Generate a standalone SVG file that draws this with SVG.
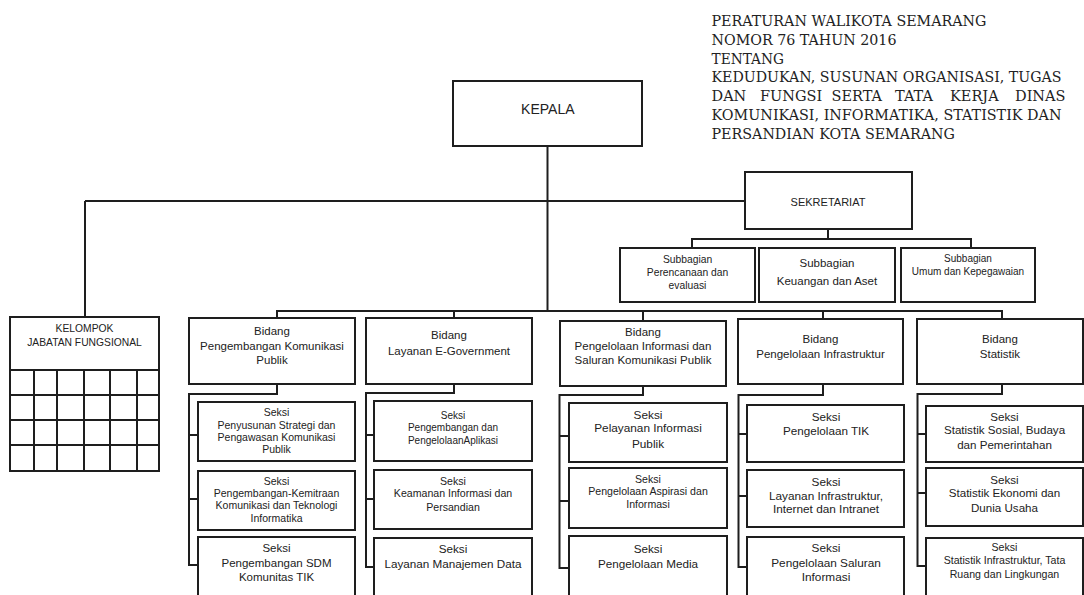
<svg xmlns="http://www.w3.org/2000/svg" width="1084" height="595" viewBox="0 0 1084 595">
<style>
  .box { fill: #fff; stroke: #1e1e1e; stroke-width: 2; }
  .ln { fill: none; stroke: #1e1e1e; stroke-width: 2; }
  .t { font-family: "Liberation Sans", Arial, sans-serif; fill: #222; text-anchor: middle; }
  .hd { font-family: "DejaVu Serif", "Liberation Serif", serif; font-size: 14.5px; fill: #222; }
</style>
<rect x="0" y="0" width="1084" height="595" fill="#fff"/>

<g id="header">
  <text class="hd" x="711.5" y="26" textLength="275" lengthAdjust="spacingAndGlyphs">PERATURAN WALIKOTA SEMARANG</text>
  <text class="hd" x="711.5" y="44.8" textLength="185" lengthAdjust="spacingAndGlyphs">NOMOR 76 TAHUN 2016</text>
  <text class="hd" x="711.5" y="63.6" textLength="72.5" lengthAdjust="spacingAndGlyphs">TENTANG</text>
  <text class="hd" x="711.5" y="82.4" textLength="350" lengthAdjust="spacingAndGlyphs">KEDUDUKAN, SUSUNAN ORGANISASI, TUGAS</text>
  <text class="hd" y="101.2"><tspan x="711.5">DAN</tspan> <tspan x="760">FUNGSI</tspan> <tspan x="831.5">SERTA</tspan> <tspan x="895">TATA</tspan> <tspan x="950">KERJA</tspan> <tspan x="1015">DINAS</tspan></text>
  <text class="hd" x="711.5" y="120" textLength="350" lengthAdjust="spacingAndGlyphs">KOMUNIKASI, INFORMATIKA, STATISTIK DAN</text>
  <text class="hd" x="711.5" y="138.8" textLength="243.5" lengthAdjust="spacingAndGlyphs">PERSANDIAN KOTA SEMARANG</text>
</g>

<g id="connectors">
  <path class="ln" d="M547.5,146.5 V311"/>
  <path class="ln" d="M85,201 H745"/>
  <path class="ln" d="M85,201 V317"/>
  <path class="ln" d="M828,229 V239"/>
  <path class="ln" d="M692,248 V239 H971 V248"/>
  <path class="ln" d="M277,318 V311 H1002 V319"/>
  <path class="ln" d="M454,311 V318"/>
  <path class="ln" d="M643,311 V321"/>
  <path class="ln" d="M823,311 V319"/>
  <path class="ln" d="M277,384 V394 H189 V565 H198 M189,435 H198 M189,499 H198"/>
  <path class="ln" d="M454,384 V393 H366 V567 H374 M366,435 H374 M366,499 H374"/>
  <path class="ln" d="M643,386 V395 H559.5 V568 H569 M559.5,436 H569 M559.5,501 H569"/>
  <path class="ln" d="M823,384 V395 H738.5 V567 H747 M738.5,434 H747 M738.5,496 H747"/>
  <path class="ln" d="M1002,384 V394 H917.5 V566 H926 M917.5,434 H926 M917.5,493 H926"/>
</g>

<g id="kepala">
  <rect class="box" x="453" y="81" width="189" height="65"/>
  <text class="t" x="547.8" y="114.3" font-size="14">KEPALA</text>
</g>

<g id="sekretariat">
  <rect class="box" x="745" y="172" width="167" height="57"/>
  <text class="t" x="828" y="205.7" font-size="11">SEKRETARIAT</text>
</g>

<g id="subbagian-perencanaan">
  <rect class="box" x="620" y="248" width="135" height="54"/>
  <text class="t" x="687.5" font-size="10.3"><tspan x="687.5" y="263">Subbagian</tspan><tspan x="687.5" y="276">Perencanaan dan</tspan><tspan x="687.5" y="289.3">evaluasi</tspan></text>
</g>

<g id="subbagian-keuangan">
  <rect class="box" x="759" y="248" width="136" height="54"/>
  <text class="t" x="827" font-size="11.5"><tspan x="827" y="266.7">Subbagian</tspan><tspan x="827" y="285">Keuangan dan Aset</tspan></text>
</g>

<g id="subbagian-umum">
  <rect class="box" x="901" y="248" width="134" height="54"/>
  <text class="t" x="968" font-size="10"><tspan x="968" y="261.7">Subbagian</tspan><tspan x="968" y="275">Umum dan Kepegawaian</tspan></text>
</g>

<g id="kelompok-jabatan-fungsional">
  <rect class="box" x="10" y="317" width="149" height="154"/>
  <path class="ln" d="M10,370 H159 M10,395 H159 M10,420 H159 M10,445 H159 M34,370 V471 M57,370 V471 M84,370 V471 M110,370 V471 M137,370 V471"/>
  <text class="t" x="84.5" font-size="10.3"><tspan x="84.5" y="332.3">KELOMPOK</tspan><tspan x="84.5" y="346">JABATAN FUNGSIONAL</tspan></text>
</g>

<g id="bidang-pengembangan-komunikasi-publik">
  <rect class="box" x="189" y="318" width="166" height="66"/>
  <text class="t" x="272" font-size="11.5"><tspan x="272" y="335">Bidang</tspan><tspan x="272" y="349.5">Pengembangan Komunikasi</tspan><tspan x="272" y="364">Publik</tspan></text>
</g>
<g id="seksi-penyusunan-strategi">
  <rect class="box" x="198" y="402" width="157" height="59"/>
  <text class="t" x="276.5" font-size="10.5"><tspan x="276.5" y="416">Seksi</tspan><tspan x="276.5" y="428.5">Penyusunan Strategi dan</tspan><tspan x="276.5" y="440.5">Pengawasan Komunikasi</tspan><tspan x="276.5" y="452.7">Publik</tspan></text>
</g>
<g id="seksi-pengembangan-kemitraan">
  <rect class="box" x="198" y="471" width="157" height="59"/>
  <text class="t" x="276.5" font-size="10.5"><tspan x="276.5" y="485">Seksi</tspan><tspan x="276.5" y="497">Pengembangan-Kemitraan</tspan><tspan x="276.5" y="509.3">Komunikasi dan Teknologi</tspan><tspan x="276.5" y="521.7">Informatika</tspan></text>
</g>
<g id="seksi-pengembangan-sdm">
  <rect class="box" x="198" y="537" width="157" height="70"/>
  <text class="t" x="276.5" font-size="11.5"><tspan x="276.5" y="552.3">Seksi</tspan><tspan x="276.5" y="566.7">Pengembangan SDM</tspan><tspan x="276.5" y="581">Komunitas TIK</tspan></text>
</g>

<g id="bidang-layanan-e-government">
  <rect class="box" x="366" y="318" width="166" height="66"/>
  <text class="t" x="449" font-size="11.5"><tspan x="449" y="339">Bidang</tspan><tspan x="449" y="355">Layanan E-Government</tspan></text>
</g>
<g id="seksi-pengembangan-aplikasi">
  <rect class="box" x="374" y="401" width="158" height="60"/>
  <text class="t" x="453" font-size="10"><tspan x="453" y="419">Seksi</tspan><tspan x="453" y="431">Pengembangan dan</tspan><tspan x="453" y="444.3">PengelolaanAplikasi</tspan></text>
</g>
<g id="seksi-keamanan-informasi">
  <rect class="box" x="374" y="470" width="158" height="59"/>
  <text class="t" x="453" font-size="10.6"><tspan x="453" y="485">Seksi</tspan><tspan x="453" y="497">Keamanan Informasi dan</tspan><tspan x="453" y="511">Persandian</tspan></text>
</g>
<g id="seksi-layanan-manajemen-data">
  <rect class="box" x="374" y="538" width="158" height="70"/>
  <text class="t" x="453" font-size="11.7"><tspan x="453" y="553.3">Seksi</tspan><tspan x="453" y="568.3">Layanan Manajemen Data</tspan></text>
</g>

<g id="bidang-pengelolaan-informasi">
  <rect class="box" x="560" y="321" width="166" height="65"/>
  <text class="t" x="643" font-size="11.5"><tspan x="643" y="336">Bidang</tspan><tspan x="643" y="350">Pengelolaan Informasi dan</tspan><tspan x="643" y="364.3">Saluran Komunikasi Publik</tspan></text>
</g>
<g id="seksi-pelayanan-informasi">
  <rect class="box" x="569" y="403" width="158" height="59"/>
  <text class="t" x="648" font-size="11.8"><tspan x="648" y="419">Seksi</tspan><tspan x="648" y="432.3">Pelayanan Informasi</tspan><tspan x="648" y="447.7">Publik</tspan></text>
</g>
<g id="seksi-pengelolaan-aspirasi">
  <rect class="box" x="569" y="468" width="158" height="60"/>
  <text class="t" x="648" font-size="10.6"><tspan x="648" y="482.7">Seksi</tspan><tspan x="648" y="495">Pengelolaan Aspirasi dan</tspan><tspan x="648" y="508.3">Informasi</tspan></text>
</g>
<g id="seksi-pengelolaan-media">
  <rect class="box" x="569" y="536" width="158" height="70"/>
  <text class="t" x="648" font-size="11.7"><tspan x="648" y="552.7">Seksi</tspan><tspan x="648" y="567.7">Pengelolaan Media</tspan></text>
</g>

<g id="bidang-pengelolaan-infrastruktur">
  <rect class="box" x="738" y="319" width="165" height="65"/>
  <text class="t" x="820.5" font-size="11.5"><tspan x="820.5" y="343.3">Bidang</tspan><tspan x="820.5" y="358.3">Pengelolaan Infrastruktur</tspan></text>
</g>
<g id="seksi-pengelolaan-tik">
  <rect class="box" x="747" y="405" width="157" height="57"/>
  <text class="t" x="826" font-size="11.7"><tspan x="826" y="420.7">Seksi</tspan><tspan x="826" y="435">Pengelolaan TIK</tspan></text>
</g>
<g id="seksi-layanan-infrastruktur">
  <rect class="box" x="747" y="470" width="157" height="57"/>
  <text class="t" x="826" font-size="11.8"><tspan x="826" y="485.7">Seksi</tspan><tspan x="826" y="500">Layanan Infrastruktur,</tspan><tspan x="826" y="513.3">Internet dan Intranet</tspan></text>
</g>
<g id="seksi-pengelolaan-saluran">
  <rect class="box" x="747" y="537" width="157" height="70"/>
  <text class="t" x="826" font-size="11.8"><tspan x="826" y="552.3">Seksi</tspan><tspan x="826" y="566.7">Pengelolaan Saluran</tspan><tspan x="826" y="581">Informasi</tspan></text>
</g>

<g id="bidang-statistik">
  <rect class="box" x="917" y="319" width="166" height="65"/>
  <text class="t" x="1000" font-size="11.5"><tspan x="1000" y="343.3">Bidang</tspan><tspan x="1000" y="358.3">Statistik</tspan></text>
</g>
<g id="seksi-statistik-sosial">
  <rect class="box" x="926" y="406" width="157" height="56"/>
  <text class="t" x="1004.5" font-size="11.6"><tspan x="1004.5" y="420.7">Seksi</tspan><tspan x="1004.5" y="434.3">Statistik Sosial, Budaya</tspan><tspan x="1004.5" y="449">dan Pemerintahan</tspan></text>
</g>
<g id="seksi-statistik-ekonomi">
  <rect class="box" x="926" y="468" width="157" height="58"/>
  <text class="t" x="1004.5" font-size="11.6"><tspan x="1004.5" y="484.3">Seksi</tspan><tspan x="1004.5" y="497.3">Statistik Ekonomi dan</tspan><tspan x="1004.5" y="512.3">Dunia Usaha</tspan></text>
</g>
<g id="seksi-statistik-infrastruktur">
  <rect class="box" x="926" y="538" width="157" height="70"/>
  <text class="t" x="1004.5" font-size="10.6"><tspan x="1004.5" y="550.7">Seksi</tspan><tspan x="1004.5" y="564">Statistik Infrastruktur, Tata</tspan><tspan x="1004.5" y="577.7">Ruang dan Lingkungan</tspan></text>
</g>
</svg>
